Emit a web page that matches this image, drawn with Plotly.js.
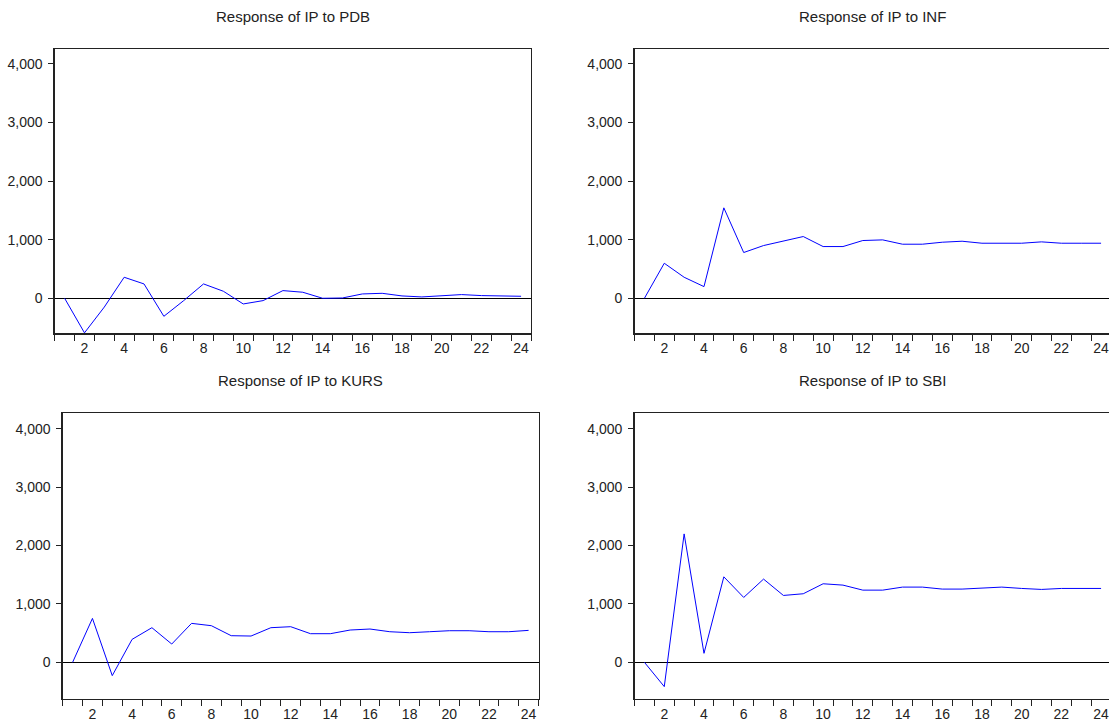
<!DOCTYPE html>
<html>
<head>
<meta charset="utf-8">
<script src="https://cdn.plot.ly/plotly-3.0.1.min.js"></script>
<style>
html, body { margin: 0; padding: 0; overflow: hidden; background: #fff; }
#chart { width: 1112px; height: 722px; }
</style>
</head>
<body>
<div id="chart"></div>
<script>
// Periods
const periods = [1,2,3,4,5,6,7,8,9,10,11,12,13,14,15,16,17,18,19,20,21,22,23,24];

// Panel titles
const titles = ["Response of IP to PDB", "Response of IP to INF", "Response of IP to KURS", "Response of IP to SBI"];

// Responses
const respPDB  = [0,-590,-150,359,245,-308,-40,245,120,-97,-40,131,103,0,5,74,85,40,23,40,63,46,34,34];
const respINF  = [0,598,359,199,1544,781,900,974,1054,883,883,986,997,923,923,957,974,940,934,940,963,940,940,940];
const respKURS = [0,752,-228,393,593,313,667,627,456,450,593,610,490,490,553,570,524,507,524,541,541,524,524,547];
const respSBI  = [0,-416,2199,154,1464,1111,1425,1145,1174,1345,1322,1236,1236,1288,1288,1254,1254,1265,1288,1265,1248,1265,1265,1265];

// Axis tick labels
const xTickVals = [2,4,6,8,10,12,14,16,18,20,22,24];
const yTickVals = [0,1000,2000,3000,4000];

const series = [respPDB, respINF, respKURS, respSBI];

const W = 1112, H = 722;
const panels = [
  {x0: 54.7, x1: 531,   y0: 49,    y1: 333.3, yr: [-598, 4256]},
  {x0: 634.5, x1: 1111, y0: 49,    y1: 333.3, yr: [-598, 4256]},
  {x0: 62.7, x1: 538.5, y0: 413.3, y1: 698.7, yr: [-623, 4264]},
  {x0: 634.5, x1: 1111, y0: 413.3, y1: 698.7, yr: [-623, 4264]}
];
const titleY = [17, 17, 381, 381];

const font = {family: "Liberation Sans, Arial, sans-serif", size: 14, color: "#222"};
const data = [];
const layout = {
  width: W, height: H,
  margin: {l: 0, r: 0, t: 0, b: 0},
  paper_bgcolor: "#fff", plot_bgcolor: "#fff",
  showlegend: false,
  font: font,
  annotations: []
};

series.forEach((vals, i) => {
  const n = i === 0 ? "" : String(i + 1);
  const p = panels[i];
  data.push({
    x: periods, y: vals, type: "scatter", mode: "lines",
    line: {color: "#0000ff", width: 1},
    xaxis: "x" + n, yaxis: "y" + n, hoverinfo: "skip"
  });
  layout["xaxis" + n] = {
    domain: [p.x0 / W, p.x1 / W],
    anchor: "y" + n,
    range: [0.5, 24.5],
    tickmode: "array", tickvals: xTickVals,
    ticks: "", ticklen: 0,
    minor: {ticks: "outside", tick0: 0.5, dtick: 1, ticklen: 6, tickcolor: "#222", tickwidth: 1},
    showgrid: false, zeroline: false,
    showline: true, mirror: true, linecolor: "#222", linewidth: 1.3,
    tickfont: {family: font.family, size: 14, color: "#222"},
    ticklabelstandoff: 2,
    fixedrange: true
  };
  layout["yaxis" + n] = {
    domain: [1 - p.y1 / H, 1 - p.y0 / H],
    anchor: "x" + n,
    range: p.yr,
    tickmode: "array", tickvals: yTickVals,
    tickformat: ",d",
    ticks: "outside", ticklen: 5, tickcolor: "#222", tickwidth: 1,
    showgrid: false,
    zeroline: true, zerolinecolor: "#000", zerolinewidth: 1,
    showline: true, mirror: true, linecolor: "#222", linewidth: 1.3,
    tickfont: {family: font.family, size: 14, color: "#222"},
    ticklabelstandoff: 3,
    fixedrange: true
  };
  layout.annotations.push({
    text: titles[i], xref: "paper", yref: "paper",
    x: (p.x0 + p.x1) / 2 / W, y: 1 - titleY[i] / H,
    xanchor: "center", yanchor: "middle", showarrow: false,
    font: {family: font.family, size: 15, color: "#222"}
  });
});

Plotly.newPlot("chart", data, layout, {staticPlot: true, displayModeBar: false});
</script>
</body>
</html>
